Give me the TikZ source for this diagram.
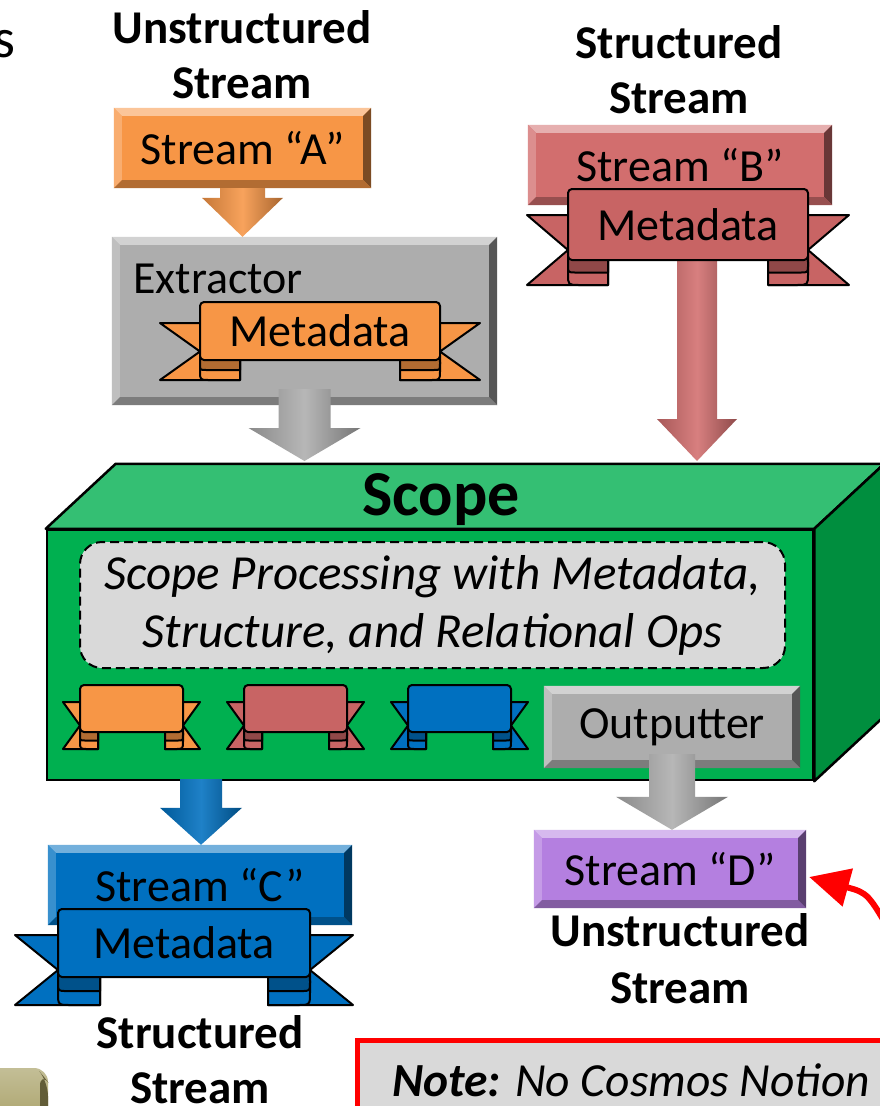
\documentclass[tikz,border=0pt]{standalone}
\usepackage{fontspec}
\setmainfont{Carlito}
\usetikzlibrary{arrows.meta,calc}
\definecolor{orangeC}{HTML}{F79646}
\definecolor{redC}{HTML}{D26E6E}
\definecolor{redR}{HTML}{C86464}
\definecolor{blueC}{HTML}{0070C0}
\definecolor{purpleC}{HTML}{B47FE0}
\definecolor{grayC}{HTML}{ADADAD}
\definecolor{greenF}{HTML}{00B050}
\definecolor{greenT}{HTML}{34BF73}
\definecolor{greenS}{HTML}{008E3E}
\definecolor{procC}{HTML}{D9D9D9}
\definecolor{oliveC}{HTML}{A39B5E}

\tikzset{
  big/.style={font=\fontsize{46}{56}\selectfont, inner sep=0},
  hdr/.style={font=\fontsize{47}{56}\selectfont\bfseries, inner sep=0},
  sbox/.style={font=\fontsize{46}{56}\selectfont, inner sep=0, draw=none},
  ribbonline/.style={draw=black, line width=2pt, line join=round},
}

% beveled box edges
\newcommand{\bevelbox}[2]{%
  \fill[#2!55!white] (#1.north west) -- (#1.north east) -- ([shift={(-8pt,-8pt)}]#1.north east) -- ([shift={(8pt,-8pt)}]#1.north west) -- cycle;
  \fill[#2!78!white] (#1.north west) -- ([shift={(8pt,-8pt)}]#1.north west) -- ([shift={(8pt,8pt)}]#1.south west) -- (#1.south west) -- cycle;
  \fill[#2!50!black] (#1.north east) -- (#1.south east) -- ([shift={(-8pt,8pt)}]#1.south east) -- ([shift={(-8pt,-8pt)}]#1.north east) -- cycle;
  \fill[#2!72!black] (#1.south west) -- (#1.south east) -- ([shift={(-8pt,8pt)}]#1.south east) -- ([shift={(8pt,8pt)}]#1.south west) -- cycle;
}

% block arrow pointing down: from, to, half shaft, half head, head length, colour
\newcommand{\blockarrow}[6]{%
  \path[left color=#6!80!black, right color=#6!68!black, middle color=#6!88!white]
    let \p1=(#1), \p2=(#2) in
    (\x1-#3pt,\y1) -- (\x1+#3pt,\y1) -- (\x1+#3pt,\y2+#5pt) -- (\x1+#4pt,\y2+#5pt)
    -- (\x1,\y2) -- (\x1-#4pt,\y2+#5pt) -- (\x1-#3pt,\y2+#5pt) -- cycle;
}

% ribbon: L R T B ext dtop dbot curlwidth colour
\newcommand{\drawribbon}[9]{%
  \pgfmathsetmacro\rTT{#3+#6}%
  \pgfmathsetmacro\rTB{#4+#7}%
  \pgfmathsetmacro\rTM{(\rTT+\rTB)/2}%
  \pgfmathsetmacro\rLo{#1-#5}%
  \pgfmathsetmacro\rRo{#2+#5}%
  \pgfmathsetmacro\rLc{#1+#8}%
  \pgfmathsetmacro\rRc{#2-#8}%
  \pgfmathsetmacro\rCm{#4+#7*0.5}%
  \pgfmathsetmacro\rBu{#4-4}%
  \pgfmathsetmacro\rr{#7*0.45}%
  \pgfmathsetmacro\rs{#7*0.3}%
  \filldraw[ribbonline, fill=#9] (\rLo,\rTT) -- (\rLc,\rTT) -- (\rLc,\rTB) -- (\rLo,\rTB) -- (#1,\rTM) -- cycle;
  \filldraw[ribbonline, fill=#9] (\rRo,\rTT) -- (\rRc,\rTT) -- (\rRc,\rTB) -- (\rRo,\rTB) -- (#2,\rTM) -- cycle;
  % left curl
  \filldraw[ribbonline, fill=#9] (\rLc,\rBu) -- (#1,\rBu) -- (#1,{\rTB-\rr}) .. controls (#1,\rTB) .. ({#1+\rr},\rTB) -- (\rLc,\rTB) -- cycle;
  \filldraw[ribbonline, fill=#9!72!black] (\rLc,\rBu) -- ({#1+\rs},\rBu) .. controls (#1,\rBu) .. (#1,{\rBu+\rs}) -- (#1,{\rCm-\rs}) .. controls (#1,\rCm) .. ({#1+\rs},\rCm) -- (\rLc,\rCm) -- cycle;
  % right curl
  \filldraw[ribbonline, fill=#9] (\rRc,\rBu) -- (#2,\rBu) -- (#2,{\rTB-\rr}) .. controls (#2,\rTB) .. ({#2-\rr},\rTB) -- (\rRc,\rTB) -- cycle;
  \filldraw[ribbonline, fill=#9!72!black] (\rRc,\rBu) -- ({#2-\rs},\rBu) .. controls (#2,\rBu) .. (#2,{\rBu+\rs}) -- (#2,{\rCm-\rs}) .. controls (#2,\rCm) .. ({#2-\rs},\rCm) -- (\rRc,\rCm) -- cycle;
  \filldraw[ribbonline, fill=#9, rounded corners=4pt] (#1,#3) rectangle (#2,#4);
}

\begin{document}
\begin{tikzpicture}[x=1pt,y=-1pt]
\useasboundingbox (0,0) rectangle (880,1106);
\clip (0,0) rectangle (880,1106);
\fill[white] (0,0) rectangle (880,1106);

% fragment at top left
\node[font=\fontsize{56}{60}\selectfont, anchor=base east, inner sep=0] (frag) at (16,57) {s};

% headers
\node[hdr] (h1a) at (242,27) {Unstructured};
\node[hdr] (h1b) at (242,83) {Stream};
\node[hdr] (h2a) at (679,42) {Structured};
\node[hdr] (h2b) at (679,98) {Stream};

% Stream A
\node[sbox, fill=orangeC, minimum width=257pt, minimum height=80pt] (sa) at (242.5,148) {};
\bevelbox{sa}{orangeC}
\node[big] (sat) at (sa.center) {Stream “A”};

% Extractor
\node[sbox, fill=grayC, minimum width=385pt, minimum height=168pt] (ex) at (304.5,321) {};
\bevelbox{ex}{grayC}
\node[big, anchor=west] (exl) at (133,279) {Extractor};
\drawribbon{200}{440}{302}{360}{40}{21}{20}{40}{orangeC}
\node[big] (mdA) at (320,331) {Metadata};

\blockarrow{sa.south}{ex.north}{22.5}{40.5}{39}{orangeC}
\coordinate (tipA) at (304.5,461);
\blockarrow{[yshift=16pt]ex.south}{tipA}{26}{56}{33}{grayC}

% Stream B
\node[sbox, fill=redC, minimum width=304pt, minimum height=80pt] (sb) at (680,165) {};
\bevelbox{sb}{redC}
\node[big] (sbt) at (sb.center) {Stream “B”};
\coordinate (rbB) at (697,250);
\coordinate (rbT) at (697,461);
\blockarrow{rbB}{rbT}{20}{40}{42}{redC}
\drawribbon{568}{808}{189}{260}{41}{26}{25}{40}{redR}
\node[big] (mdB) at (688,225) {Metadata};

% Scope block
\node[draw=black, line width=2.5pt, fill=greenF, inner sep=0, minimum width=766pt, minimum height=250pt] (scope) at (430,655) {};
\filldraw[fill=greenT, draw=black, line width=2.5pt, line join=round] (scope.north west) -- ++(70pt,65pt) -- ([shift={(70pt,65pt)}]scope.north east) -- (scope.north east) -- cycle;
\filldraw[fill=greenS, draw=black, line width=2.5pt, line join=round] (scope.north east) -- ++(70pt,65pt) -- ([shift={(70pt,65pt)}]scope.south east) -- (scope.south east) -- cycle;
\node[font=\fontsize{64}{70}\selectfont\bfseries, inner sep=0] (stitle) at (441,500) {Scope};
\node[draw=black, dashed, dash pattern=on 9pt off 5pt, line width=2pt, fill=procC, rounded corners=22pt,
      inner sep=0, minimum width=705pt, minimum height=126pt, align=center,
      font=\fontsize{49}{58}\selectfont\itshape] (proc) at (432.5,605)
      {Scope Processing with Metadata,\\Structure, and Relational Ops};
\drawribbon{80}{183}{685}{732}{17}{17}{17}{18}{orangeC}
\drawribbon{244}{347}{685}{732}{17}{17}{17}{18}{redR}
\drawribbon{408}{511}{685}{732}{17}{17}{17}{18}{blueC}
\node[sbox, fill=grayC, minimum width=256pt, minimum height=82pt] (out) at (672,727) {};
\bevelbox{out}{grayC}
\node[big] (outt) at (out.center) {Outputter};

% Stream D
\node[sbox, fill=purpleC, minimum width=272pt, minimum height=78pt] (sd) at (670,869) {};
\bevelbox{sd}{purpleC}
\node[big] (sdt) at (sd.center) {Stream “D”};
\blockarrow{[yshift=14pt]out.south}{sd.north}{23}{56}{33}{grayC}
\node[hdr] (h3a) at (680,930) {Unstructured};
\node[hdr] (h3b) at (680,988) {Stream};

% Stream C
\node[sbox, fill=blueC, minimum width=304pt, minimum height=80pt] (sc) at (200,885) {};
\bevelbox{sc}{blueC}
\node[big] (sct) at (sc.center) {Stream “C”};
\coordinate (bst) at (201,779);
\blockarrow{bst}{sc.north}{21}{41}{37}{blueC}
\drawribbon{58}{310}{909}{977}{43}{26}{28}{42}{blueC}
\node[big] (mdC) at (184,943) {Metadata};
\node[hdr] (h4a) at (200,1032) {Structured};
\node[hdr] (h4b) at (200,1088) {Stream};

% red curved arrow
\coordinate (rs) at (895,940);
\draw[red, line width=6pt, -{Triangle[length=40pt,width=38pt]}] (rs) .. controls (868,893) .. ([shift={(3pt,-8pt)}]sd.east);

% note
\node[draw=red, line width=5pt, fill=procC, anchor=north west, inner sep=0, minimum width=560pt, minimum height=110pt] (note) at (355,1038) {};
\node[font=\fontsize{47.5}{56}\selectfont, inner sep=0, anchor=west] (notet) at (392,1080) {\textbf{\textit{Note:}} \textit{No Cosmos Notion}};

% olive box fragment
\shade[top color=oliveC!65!white, bottom color=oliveC, rounded corners=14pt] (-20,1068) rectangle (48,1140);
\fill[oliveC!60!black, rounded corners=14pt] (40,1072) -- (48,1082) -- (48,1140) -- (40,1140) -- cycle;
\end{tikzpicture}
\end{document}
